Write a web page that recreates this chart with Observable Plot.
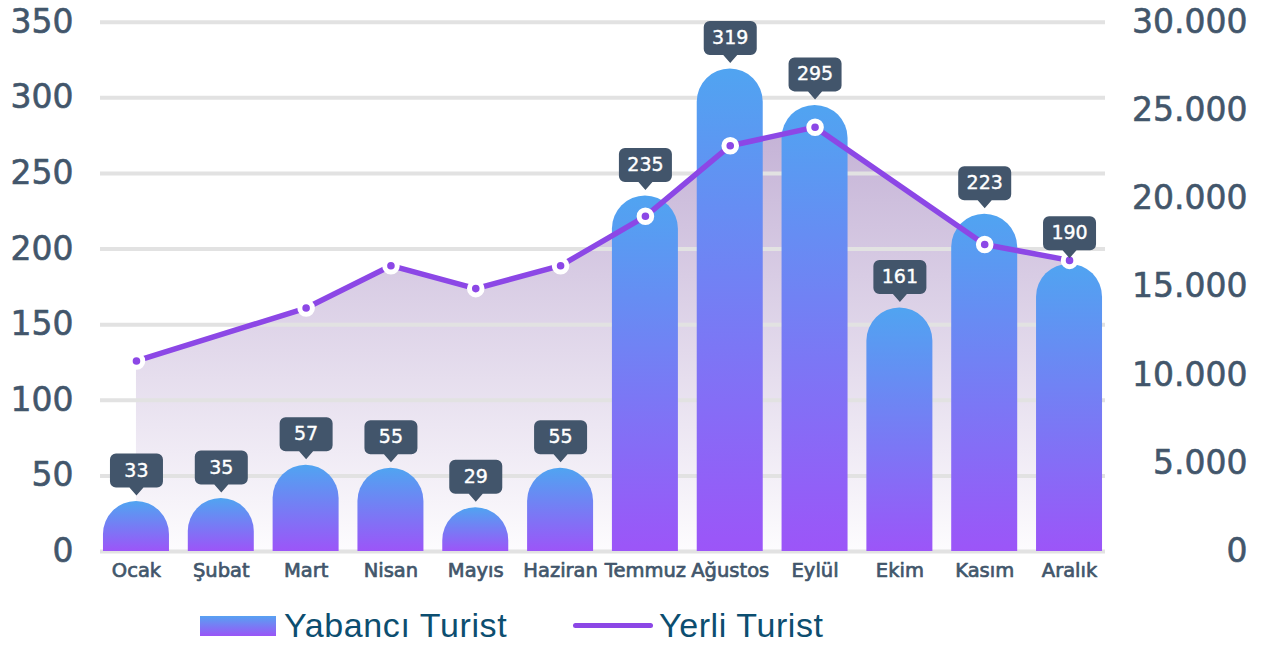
<!DOCTYPE html>
<html>
<head>
<meta charset="utf-8">
<script src="https://cdn.jsdelivr.net/npm/d3@7"></script>
<script src="https://cdn.jsdelivr.net/npm/@observablehq/plot@0.6"></script>
<style>
  html, body { margin: 0; padding: 0; background: #ffffff; }
  #chart { width: 1281px; height: 591px; }
  #legend { position: relative; width: 1281px; height: 57px; font-family: "Liberation Sans", Arial, sans-serif; color: #0c4e70; }
  #legend .sw { position: absolute; }
  #legend .lbl { position: absolute; font-size: 34px; line-height: 34px; white-space: nowrap; letter-spacing: 0.6px; }
</style>
</head>
<body>
<svg width="0" height="0" style="position:absolute">
  <defs>
    <linearGradient id="barGrad" x1="0" y1="0" x2="0" y2="1">
      <stop offset="0" stop-color="#50a4f1"/>
      <stop offset="1" stop-color="#9c55f8"/>
    </linearGradient>
    <linearGradient id="areaGrad" x1="0" y1="0" x2="0" y2="1">
      <stop offset="0" stop-color="#c4b2d6"/>
      <stop offset="1" stop-color="#fdfcfe"/>
    </linearGradient>
    <filter id="softShadow" x="-50%" y="-50%" width="200%" height="200%">
      <feDropShadow dx="0" dy="1" stdDeviation="1.5" flood-color="#000000" flood-opacity="0.18"/>
    </filter>
  </defs>
</svg>
<div id="chart"></div>
<div id="legend">
  <div class="sw" style="left:200px;top:25px;width:76px;height:20px;background:linear-gradient(to bottom,#58a1f2,#9a55f7);"></div>
  <div class="lbl" style="left:284px;top:17px;">Yabancı Turist</div>
  <div class="sw" style="left:573px;top:32px;width:80px;height:5px;border-radius:3px;background:#8c47e6;"></div>
  <div class="lbl" style="left:659px;top:17px;">Yerli Turist</div>
</div>
<script>
// ---- data ----
const months = ["Ocak","Şubat","Mart","Nisan","Mayıs","Haziran","Temmuz","Ağustos","Eylül","Ekim","Kasım","Aralık"];
const yabanciTurist = [33, 35, 57, 55, 29, 55, 235, 319, 295, 161, 223, 190];
const yerliTurist = [10800, null, 13800, 16200, 14900, 16200, 19000, 23000, 24050, null, 17400, 16500];
const leftTicks = [0, 50, 100, 150, 200, 250, 300, 350];
const rightTicks = [0, 5000, 10000, 15000, 20000, 25000, 30000];
const leftMax = 350, rightMax = 30000;

// ---- tables ----
const toLeft = v => v * leftMax / rightMax;
const bars = months.map((m, i) => ({month: m, value: yabanciTurist[i]}));
const lineData = months
  .map((m, i) => ({month: m, value: yerliTurist[i]}))
  .filter(d => d.value != null)
  .map(d => ({month: d.month, v: toLeft(d.value)}));
const fmtTR = v => d3.format(",")(v).replace(/,/g, ".");

const axisColor = "#42566b";
const lineColor = "#8c47e6";

// callout shape (box with pointer), drawn relative to the bar top
const callout = {
  draw(ctx) {
    const w = 26.5, top = -48, bot = -14, r = 6, tw = 7, tip = -6;
    ctx.moveTo(-w + r, top);
    ctx.lineTo(w - r, top);
    ctx.arcTo(w, top, w, top + r, r);
    ctx.lineTo(w, bot - r);
    ctx.arcTo(w, bot, w - r, bot, r);
    ctx.lineTo(tw, bot);
    ctx.lineTo(0, tip);
    ctx.lineTo(-tw, bot);
    ctx.lineTo(-w + r, bot);
    ctx.arcTo(-w, bot, -w, bot - r, r);
    ctx.lineTo(-w, top + r);
    ctx.arcTo(-w, top, -w + r, top, r);
    ctx.closePath();
  }
};

const chart = Plot.plot({
  width: 1281,
  height: 591,
  marginLeft: 100,
  marginRight: 176,
  marginTop: 21.7,
  marginBottom: 40,
  style: {fontFamily: "'DejaVu Sans', sans-serif", color: axisColor, background: "#ffffff", overflow: "visible"},
  x: {domain: months, paddingInner: 0.222, paddingOuter: 0.035, round: false, label: null},
  y: {domain: [0, leftMax], label: null},
  marks: [
    Plot.areaY(lineData, {x: "month", y: "v", fill: "url(#areaGrad)"}),
    Plot.ruleY(leftTicks, {stroke: "#e2e2e2", strokeWidth: 4}),
    Plot.barY(bars, {x: "month", y: "value", fill: "url(#barGrad)"}),
    Plot.line(lineData, {x: "month", y: "v", stroke: lineColor, strokeWidth: 5.5, strokeLinejoin: "round", strokeLinecap: "round"}),
    Plot.dot(lineData, {x: "month", y: "v", r: 6.3, fill: lineColor, stroke: "#ffffff", strokeWidth: 5, style: "filter:url(#softShadow)"}),
    Plot.dot(bars, {x: "month", y: "value", r: 5, symbol: callout, fill: "#42556b", stroke: "none"}),
    Plot.text(bars, {x: "month", y: "value", text: d => String(d.value), dy: -31, fill: "#ffffff", stroke: "#ffffff", strokeWidth: 0.4, fontSize: 19, fontFamily: "'DejaVu Sans', sans-serif"}),
    Plot.axisY(leftTicks, {anchor: "left", tickSize: 0, tickPadding: 27, fontSize: 33, label: null, fill: axisColor, textStroke: axisColor, textStrokeWidth: 0.6}),
    Plot.text(rightTicks, {y: d => toLeft(d), text: d => fmtTR(d), frameAnchor: "right", textAnchor: "end", dx: 142, fontSize: 33, fill: axisColor, stroke: axisColor, strokeWidth: 0.6, style: "letter-spacing:0.8px"}),
    Plot.axisX({tickSize: 0, tickPadding: 12, fontSize: 19.5, label: null, fill: axisColor, textStroke: axisColor, textStrokeWidth: 0.7})
  ]
});

// round the bar tops (semicircular caps), keeping Plot's computed geometry
chart.querySelectorAll('g[fill="url(#barGrad)"] rect').forEach(rect => {
  const x = +rect.getAttribute("x"), y = +rect.getAttribute("y");
  const w = +rect.getAttribute("width"), h = +rect.getAttribute("height");
  const rad = Math.min(w / 2, h);
  const p = document.createElementNS("http://www.w3.org/2000/svg", "path");
  p.setAttribute("d", `M${x},${y + h}V${y + rad}A${w / 2},${rad} 0 0 1 ${x + w},${y + rad}V${y + h}Z`);
  rect.replaceWith(p);
});

document.getElementById("chart").appendChild(chart);
</script>
</body>
</html>
